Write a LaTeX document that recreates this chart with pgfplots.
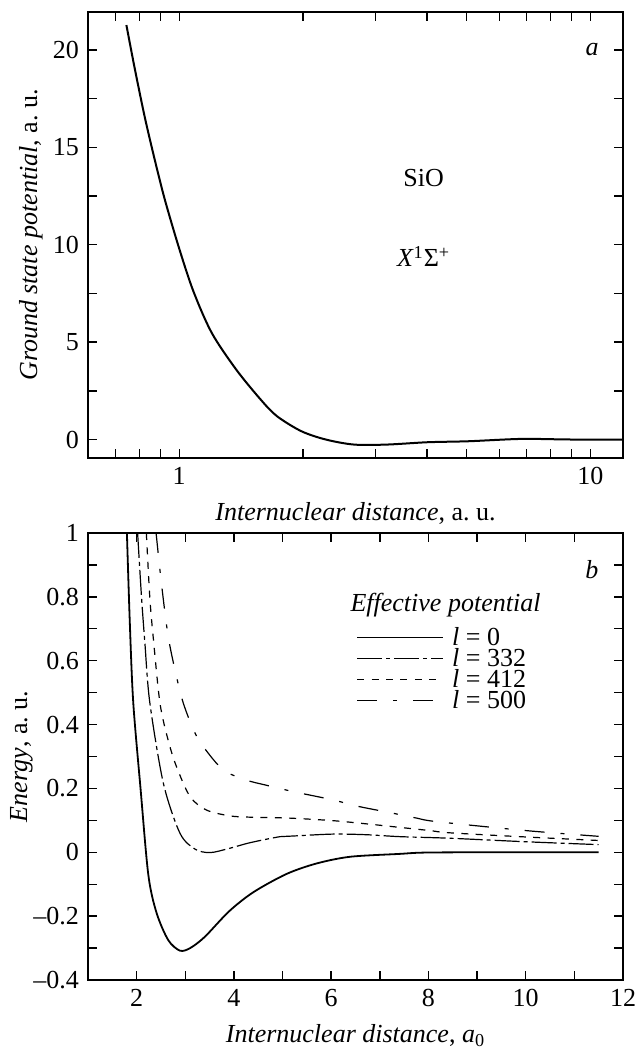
\documentclass[border=0pt]{standalone}
\usepackage{fontspec}
\setmainfont{Liberation Serif}
\usepackage{pgfplots}
\pgfplotsset{compat=1.18}
\begin{document}
\fontsize{13}{15}\selectfont
\begin{tikzpicture}
\useasboundingbox (-44pt,-298.5pt) rectangle (275pt,229pt);
\pgfplotsset{
  every axis/.append style={scale only axis, width=267.5pt,
    axis line style={line width=1pt},
    tick style={line width=0.7pt, black},
    major tick length=4.5pt, minor tick length=4.5pt,
    tick align=inside,
    /pgf/number format/assume math mode=true,
    ticklabel style={font=\fontsize{13}{15}\selectfont},
    label style={font=\fontsize{13}{15}\selectfont}},
}
% ---------- panel a ----------
\begin{axis}[at={(0,0)}, anchor=south west, height=223pt,
  xmode=log, xmin=0.6, xmax=12, ymin=-0.95, ymax=21.95,
  xtick={1,10}, xticklabels={1,10},
  minor xtick={0.7,0.8,0.9,2,3,4,5,6,7,8,9},
  ytick={0,5,10,15,20}, yticklabels={0,5,10,15,20},
  minor ytick={2.5,7.5,12.5,17.5},
  xlabel={\textit{Internuclear distance}, a.~u.},
  ylabel={\textit{Ground state potential}, a.~u.},
  ylabel style={at={(axis description cs:-0.0953,0.5)}, anchor=base}]
\addplot[black, line width=1pt, smooth, tension=0.5] coordinates {
(0.744,21.28)(0.778,19.15)(0.824,16.58)(0.872,14.36)(0.923,12.3)(1.0,9.8)
(1.083,7.6)(1.20,5.47)(1.376,3.59)(1.578,2.05)(1.728,1.20)(1.98,0.43)
(2.27,0.0)(2.66,-0.26)(3.2,-0.26)(4.02,-0.14)(5.05,-0.09)(6.79,0.03)(8.92,0)(12,0)};
\node at (axis cs:3.93,13.4) {SiO};
\node at (axis cs:3.93,9.4) {\textit{X}\textsuperscript{1}Σ\textsuperscript{+}};
\node at (axis cs:10.1,20) {\textit{a}};
\end{axis}
% ---------- panel b ----------
\begin{axis}[at={(0,-37.5pt)}, anchor=north west, height=223.5pt,
  xmin=1, xmax=12, ymin=-0.4, ymax=1,
  xtick={2,4,6,8,10,12}, xticklabels={2,4,6,8,10,12},
  minor xtick={1,3,5,7,9,11},
  ytick={-0.4,-0.2,0,0.2,0.4,0.6,0.8,1},
  yticklabels={--0.4,--0.2,0,0.2,0.4,0.6,0.8,1},
  minor ytick={-0.3,-0.1,0.1,0.3,0.5,0.7,0.9},
  xlabel={\textit{Internuclear distance}, \textit{a}\textsubscript{0}},
  ylabel={\textit{Energy}, a.~u.},
  ylabel style={at={(axis description cs:-0.114,0.5)}, anchor=base},
  legend style={draw=none, fill=none, at={(axis cs:6.51,0.699)}, anchor=north west,
    inner sep=0pt, row sep=2.5pt, column sep=2pt,
    nodes={inner xsep=2pt, inner ysep=0pt, text height=8pt, text depth=0pt},
    font=\fontsize{13}{15}\selectfont},
  legend cell align=left,
  legend image code/.code={\draw[#1] (0pt,0pt) -- (43pt,0pt);}]
\addplot[black, line width=0.9pt, smooth, tension=0.5] coordinates {
(1.80,1.0)(1.86,0.718)(1.93,0.47)(2.08,0.2)(2.24,-0.07)(2.41,-0.19)(2.65,-0.275)
(2.89,-0.308)(3.1,-0.30)(3.4,-0.265)(3.9,-0.185)(4.4,-0.125)(5.08,-0.068)(5.70,-0.035)
(6.39,-0.014)(7.41,-0.005)(7.89,-0.001)(9,0)(11.5,0)};
\addlegendentry{\textit{l} = 0}
\addplot[black, line width=0.6pt, smooth, tension=0.5, dash pattern=on 12.5pt off 2pt on 2pt off 2pt] coordinates {
(2.02,1.0)(2.10,0.80)(2.17,0.655)(2.27,0.47)(2.55,0.216)(2.89,0.06)(3.2,0.01)
(3.51,-0.001)(3.9,0.012)(4.33,0.03)(4.95,0.049)(5.22,0.051)(6.04,0.057)(6.73,0.055)
(7.41,0.049)(8.44,0.044)(10,0.033)(11.5,0.024)};
\addlegendentry{\textit{l} = 332}
\addplot[black, line width=0.6pt, smooth, tension=0.5, dash pattern=on 3.5pt off 3.7pt] coordinates {
(2.20,1.0)(2.27,0.80)(2.34,0.675)(2.48,0.467)(2.65,0.35)(2.82,0.268)(3.10,0.174)
(3.44,0.132)(3.92,0.114)(4.33,0.110)(5.15,0.107)(6.04,0.099)(6.73,0.089)(7.41,0.078)
(8.03,0.068)(8.44,0.061)(10,0.048)(11.5,0.037)};
\addlegendentry{\textit{l} = 412}
\addplot[black, line width=0.6pt, smooth, tension=0.5, dash pattern=on 10pt off 8pt on 2pt off 8pt] coordinates {
(2.40,1.0)(2.51,0.842)(2.65,0.675)(2.82,0.55)(2.96,0.467)(3.17,0.383)(3.37,0.331)
(3.78,0.258)(4.26,0.226)(4.64,0.211)(5.22,0.19)(6.04,0.164)(6.52,0.145)(7.28,0.122)
(7.76,0.107)(8.17,0.096)(10,0.068)(11.5,0.05)};
\addlegendentry{\textit{l} = 500}
\node[anchor=base west, inner sep=0pt] at (axis cs:6.39,0.753) {\textit{Effective potential}};
\node at (axis cs:11.36,0.884) {\textit{b}};
\end{axis}
\end{tikzpicture}
\end{document}
